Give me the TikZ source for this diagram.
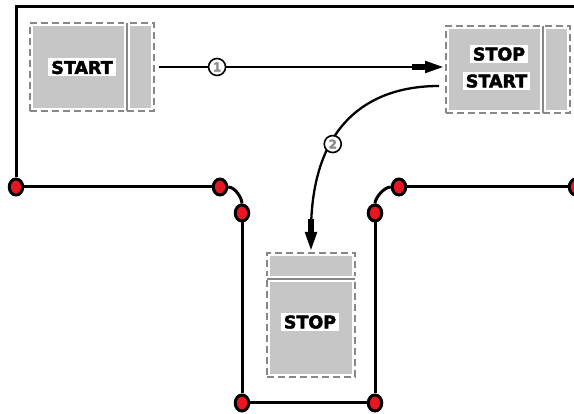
\documentclass[tikz,border=0pt]{standalone}
\usepackage{fontspec}
\setsansfont{DejaVu Sans}
\newfontfamily\lblfont{DejaVu Sans}[BoldFeatures={FakeBold=2.5}]
\usetikzlibrary{arrows.meta,shapes.geometric,calc}
\pgfdeclarelayer{bg}
\pgfsetlayers{bg,main}
\definecolor{cellgrey}{RGB}{198,198,198}
\definecolor{dashgrey}{RGB}{135,135,135}
\definecolor{dotred}{RGB}{232,22,32}
\definecolor{numgrey}{RGB}{140,140,140}
\tikzset{
  cell/.style={rectangle, inner sep=0pt, outer sep=0pt, fill=cellgrey, draw=white, line width=6pt,
    postaction={draw=dashgrey, line width=2pt, dash pattern=on 7pt off 4pt}},
  divline/.style={draw=dashgrey, line width=1.4pt},
  lbl/.style={fill=white, inner xsep=3pt, inner ysep=2.6pt, text height=12.8pt, text depth=0pt,
    font=\lblfont\bfseries\fontsize{17.5}{17.5}\selectfont},
  numc/.style={circle, draw=black, line width=1.6pt, fill=white, minimum size=17pt, inner sep=0pt,
    text=numgrey, font=\lblfont\bfseries\fontsize{12}{12}\selectfont},
  tdot/.style={ellipse, draw=black, line width=3pt, fill=dotred, minimum width=13.5pt,
    minimum height=16pt, inner sep=0pt},
  track/.style={line width=3pt, draw=black},
  flow/.style={line width=2.3pt, shorten <=5pt, shorten >=3pt,
    -{Rectangle[length=13pt,width=5.5pt,sep=0pt]Triangle[length=18pt,width=12pt,sep=0pt]}}
}
\begin{document}
\begin{tikzpicture}[x=1pt,y=-1pt]
\useasboundingbox (0,0) rectangle (574,414);
% cells
\node[cell, minimum width=97pt, minimum height=88pt] (startA) at (78.5,67) {};
\node[cell, minimum width=27pt, minimum height=88pt] (startB) at (140.5,67) {};
\draw[divline] (startA.north east) -- (startA.south east);
\node[cell, minimum width=97pt, minimum height=87pt] (stopA) at (494.5,69.5) {};
\node[cell, minimum width=27pt, minimum height=87pt] (stopB) at (556.5,69.5) {};
\draw[divline] (stopA.north east) -- (stopA.south east);
\node[cell, minimum width=88pt, minimum height=26pt] (stopTop) at (311,266) {};
\node[cell, minimum width=88pt, minimum height=98pt] (stopMain) at (311,328) {};
\draw[divline] (stopTop.south west) -- (stopTop.south east);
% labels
\node[lbl] (tStart) at (82,67.5) {START};
\node[lbl] (tStop1) at (499,54) {STOP};
\node[lbl] (tStart2) at (496.5,81) {START};
\node[lbl] (tStop2) at (310,322) {STOP};
% track dots
\node[tdot] (d1) at (16,187) {};
\node[tdot] (d2) at (220,187) {};
\node[tdot] (d3) at (242,213) {};
\node[tdot] (d4) at (375,213) {};
\node[tdot] (d5) at (399,187) {};
\node[tdot] (d6) at (576,187) {};
\node[tdot] (d7) at (242,403) {};
\node[tdot] (d8) at (375,403) {};
\coordinate (tl) at (16,7);
\coordinate (tr) at (580,7);
\begin{pgfonlayer}{bg}
\draw[track] (d1) -- (tl) -- (tr);
\draw[track] (d1) -- (d2);
\draw[track] (d2) .. controls +(15,0) and +(0,-15) .. (d3);
\draw[track] (d3) -- (d7);
\draw[track] (d7) -- (d8);
\draw[track] (d8) -- (d4);
\draw[track] (d4) .. controls +(0,-15) and +(-15,0) .. (d5);
\draw[track] (d5) -- (d6);
\end{pgfonlayer}
% flows
\draw[flow] (startB.east) -- (startB.east -| stopA.west) node[numc, pos=0.216] (n1) {1};
\coordinate (s2) at ($(stopA.west)+(-7,16.5)$);
\draw[flow, shorten <=0pt] (s2) .. controls +(-69,0) and +(0,-130) .. (stopTop.north)
  node[numc, pos=0.63] (n2) {2};
\end{tikzpicture}
\end{document}
